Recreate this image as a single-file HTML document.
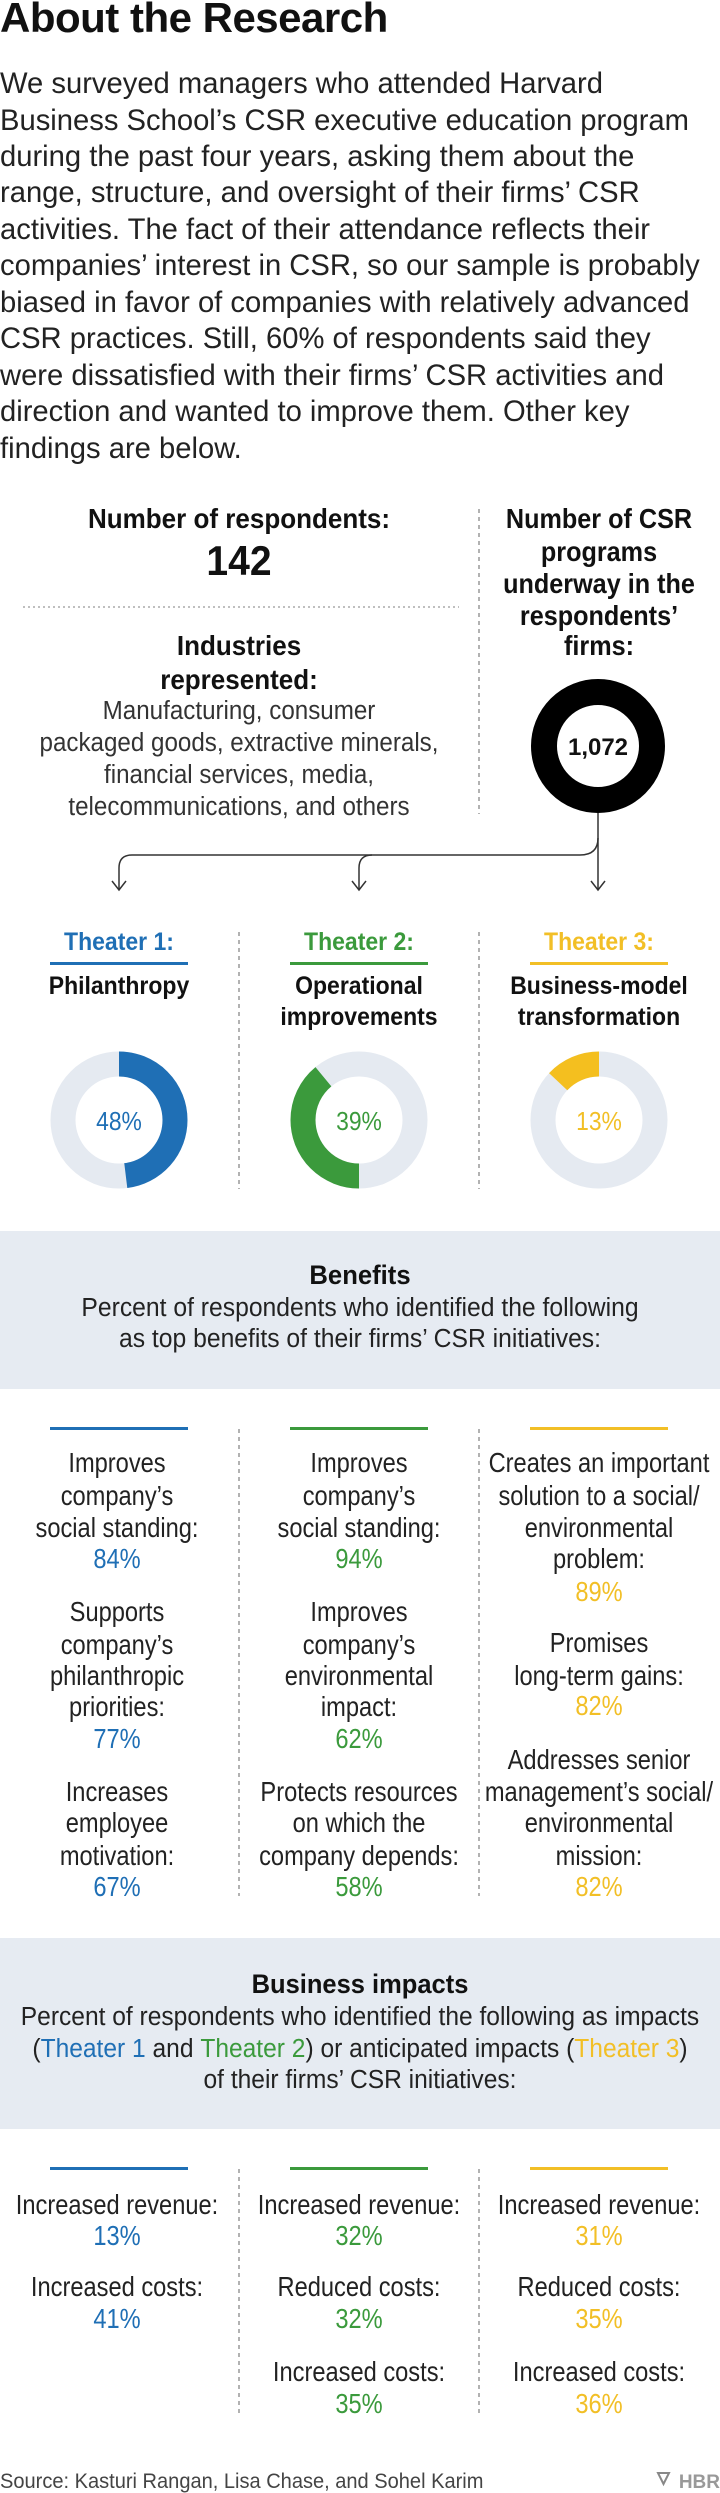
<!DOCTYPE html>
<html><head><meta charset="utf-8"><style>
html,body{margin:0;padding:0;background:#fff;}
svg{display:block;}
.s{font-family:"Liberation Sans",sans-serif;}
</style></head><body>
<svg width="720" height="2493" viewBox="0 0 720 2493" xmlns="http://www.w3.org/2000/svg" class="s">
<rect width="720" height="2493" fill="#fff"/>
<text x="0" y="32" font-size="42" font-weight="bold" fill="#111" letter-spacing="-0.5">About the Research</text>
<g font-size="29.2" fill="#222">
<text x="0" y="93">We surveyed managers who attended Harvard</text>
<text x="0" y="130">Business School’s CSR executive education program</text>
<text x="0" y="166">during the past four years, asking them about the</text>
<text x="0" y="202">range, structure, and oversight of their firms’ CSR</text>
<text x="0" y="239">activities. The fact of their attendance reflects their</text>
<text x="0" y="275">companies’ interest in CSR, so our sample is probably</text>
<text x="0" y="312">biased in favor of companies with relatively advanced</text>
<text x="0" y="348">CSR practices. Still, 60% of respondents said they</text>
<text x="0" y="385">were dissatisfied with their firms’ CSR activities and</text>
<text x="0" y="421">direction and wanted to improve them. Other key</text>
<text x="0" y="458">findings are below.</text>
</g>
<g text-anchor="middle" fill="#111" transform="translate(239 0) scale(0.93 1)">
<text x="0" y="528" font-size="28" font-weight="bold">Number of respondents:</text>
<text x="0" y="575" font-size="42" font-weight="bold">142</text>
<text x="0" y="655" font-size="28" font-weight="bold">Industries</text>
<text x="0" y="689" font-size="28" font-weight="bold">represented:</text>
<g font-size="26" fill="#333">
<text x="0" y="719">Manufacturing, consumer</text>
<text x="0" y="751">packaged goods, extractive minerals,</text>
<text x="0" y="783">financial services, media,</text>
<text x="0" y="815">telecommunications, and others</text>
</g>
</g>
<g text-anchor="middle" fill="#111" font-size="28" font-weight="bold" transform="translate(599 0) scale(0.9 1)">
<text x="0" y="528">Number of CSR</text>
<text x="0" y="561">programs</text>
<text x="0" y="593">underway in the</text>
<text x="0" y="625">respondents’</text>
<text x="0" y="655">firms:</text>
</g>
<line x1="23" y1="607" x2="459" y2="607" stroke="#aaa" stroke-width="1.5" stroke-dasharray="2 3"/>
<line x1="479" y1="509" x2="479" y2="814" stroke="#666" stroke-width="1" stroke-dasharray="4 4"/>
<circle cx="598" cy="746" r="54" fill="none" stroke="#000" stroke-width="26"/>
<text x="598" y="755" font-size="24" font-weight="bold" text-anchor="middle" fill="#111">1,072</text>
<g fill="none" stroke="#333" stroke-width="1.5">
<path d="M598 813 V889"/>
<path d="M598 838 Q598 855 580 855 H132 Q119 855 119 868 V889"/>
<path d="M372 855 Q359 855 359 868 V889"/>
<path d="M112 881 L119 890 L126 881 M352 881 L359 890 L366 881 M591 881 L598 890 L605 881"/>
</g>
<g text-anchor="middle" font-weight="bold" font-size="25">
<g transform="translate(119 0) scale(0.92 1)">
<text x="0" y="950" fill="#1f6fb5">Theater 1:</text>
<text x="0" y="994" fill="#111">Philanthropy</text>
</g>
<g transform="translate(359 0) scale(0.92 1)">
<text x="0" y="950" fill="#3b9a3c">Theater 2:</text>
<text x="0" y="994" fill="#111">Operational</text>
<text x="0" y="1025" fill="#111">improvements</text>
</g>
<g transform="translate(599 0) scale(0.92 1)">
<text x="0" y="950" fill="#f2bf26">Theater 3:</text>
<text x="0" y="994" fill="#111">Business-model</text>
<text x="0" y="1025" fill="#111">transformation</text>
</g>
</g>
<rect x="50" y="962" width="138" height="3" fill="#1f6fb5"/>
<rect x="290" y="962" width="138" height="3" fill="#3b9a3c"/>
<rect x="530" y="962" width="138" height="3" fill="#f2bf26"/>
<line x1="239" y1="932" x2="239" y2="1189" stroke="#666" stroke-dasharray="4 4"/>
<line x1="479" y1="932" x2="479" y2="1189" stroke="#666" stroke-dasharray="4 4"/>
<g fill="none" stroke-width="25">
<circle cx="119" cy="1120" r="56" stroke="#e5eaf1"/>
<circle cx="119" cy="1120" r="56" stroke="#1f6fb5" stroke-dasharray="168.9 400" transform="rotate(-90 119 1120)"/>
<circle cx="359" cy="1120" r="56" stroke="#e5eaf1"/>
<circle cx="359" cy="1120" r="56" stroke="#3b9a3c" stroke-dasharray="137.2 400" transform="rotate(90 359 1120)"/>
<circle cx="599" cy="1120" r="56" stroke="#e5eaf1"/>
<circle cx="599" cy="1120" r="56" stroke="#f4bf1f" stroke-dasharray="45.7 400" transform="rotate(223.2 599 1120)"/>
</g>
<g font-size="26" text-anchor="middle">
<text transform="translate(119 1130) scale(0.88 1)" fill="#1f6fb5">48%</text>
<text transform="translate(359 1130) scale(0.88 1)" fill="#3b9a3c">39%</text>
<text transform="translate(599 1130) scale(0.88 1)" fill="#f2bf26">13%</text>
</g>
<rect x="0" y="1231" width="720" height="158" fill="#e6ebf2"/>
<g text-anchor="middle" fill="#222" transform="translate(360 0) scale(0.95 1)">
<text x="0" y="1284" font-size="27" font-weight="bold" fill="#111">Benefits</text>
<text x="0" y="1316" font-size="26">Percent of respondents who identified the following</text>
<text x="0" y="1347" font-size="26">as top benefits of their firms’ CSR initiatives:</text>
</g>
<rect x="50" y="1427" width="138" height="3" fill="#1f6fb5"/>
<rect x="290" y="1427" width="138" height="3" fill="#3b9a3c"/>
<rect x="530" y="1427" width="138" height="3" fill="#f2bf26"/>
<line x1="239" y1="1429" x2="239" y2="1896" stroke="#666" stroke-dasharray="4 4"/>
<line x1="479" y1="1429" x2="479" y2="1896" stroke="#666" stroke-dasharray="4 4"/>
<g text-anchor="middle" font-size="28" fill="#222">
<g transform="translate(117 0) scale(0.845 1)">
<text x="0" y="1472">Improves</text><text x="0" y="1505">company’s</text><text x="0" y="1537">social standing:</text>
<text x="0" y="1568" fill="#1f6fb5">84%</text>
<text x="0" y="1621">Supports</text><text x="0" y="1654">company’s</text><text x="0" y="1685">philanthropic</text><text x="0" y="1716">priorities:</text>
<text x="0" y="1748" fill="#1f6fb5">77%</text>
<text x="0" y="1801">Increases</text><text x="0" y="1832">employee</text><text x="0" y="1865">motivation:</text>
<text x="0" y="1896" fill="#1f6fb5">67%</text>
</g>
<g transform="translate(359 0) scale(0.845 1)">
<text x="0" y="1472">Improves</text><text x="0" y="1505">company’s</text><text x="0" y="1537">social standing:</text>
<text x="0" y="1568" fill="#3b9a3c">94%</text>
<text x="0" y="1621">Improves</text><text x="0" y="1654">company’s</text><text x="0" y="1685">environmental</text><text x="0" y="1716">impact:</text>
<text x="0" y="1748" fill="#3b9a3c">62%</text>
<text x="0" y="1801">Protects resources</text><text x="0" y="1832">on which the</text><text x="0" y="1865">company depends:</text>
<text x="0" y="1896" fill="#3b9a3c">58%</text>
</g>
<g transform="translate(599 0) scale(0.845 1)">
<text x="0" y="1472">Creates an important</text><text x="0" y="1505">solution to a social/</text><text x="0" y="1537">environmental</text><text x="0" y="1568">problem:</text>
<text x="0" y="1601" fill="#f2bf26">89%</text>
<text x="0" y="1652">Promises</text><text x="0" y="1685">long-term gains:</text>
<text x="0" y="1715" fill="#f2bf26">82%</text>
<text x="0" y="1769">Addresses senior</text><text x="0" y="1801">management’s social/</text><text x="0" y="1832">environmental</text><text x="0" y="1865">mission:</text>
<text x="0" y="1896" fill="#f2bf26">82%</text>
</g>
</g>
<rect x="0" y="1938" width="720" height="191" fill="#e6ebf2"/>
<g text-anchor="middle" fill="#222" font-size="26" transform="translate(360 0) scale(0.945 1)">
<text x="0" y="1993" font-size="27" font-weight="bold" fill="#111">Business impacts</text>
<text x="0" y="2025">Percent of respondents who identified the following as impacts</text>
<text x="0" y="2057">(<tspan fill="#1f6fb5">Theater 1</tspan> and <tspan fill="#3b9a3c">Theater 2</tspan>) or anticipated impacts (<tspan fill="#f2bf26">Theater 3</tspan>)</text>
<text x="0" y="2088">of their firms’ CSR initiatives:</text>
</g>
<rect x="50" y="2167" width="138" height="3" fill="#1f6fb5"/>
<rect x="290" y="2167" width="138" height="3" fill="#3b9a3c"/>
<rect x="530" y="2167" width="138" height="3" fill="#f2bf26"/>
<line x1="239" y1="2169" x2="239" y2="2413" stroke="#666" stroke-dasharray="4 4"/>
<line x1="479" y1="2169" x2="479" y2="2413" stroke="#666" stroke-dasharray="4 4"/>
<g text-anchor="middle" font-size="28" fill="#222">
<g transform="translate(117 0) scale(0.845 1)">
<text x="0" y="2214">Increased revenue:</text><text x="0" y="2245" fill="#1f6fb5">13%</text>
<text x="0" y="2296">Increased costs:</text><text x="0" y="2328" fill="#1f6fb5">41%</text>
</g>
<g transform="translate(359 0) scale(0.845 1)">
<text x="0" y="2214">Increased revenue:</text><text x="0" y="2245" fill="#3b9a3c">32%</text>
<text x="0" y="2296">Reduced costs:</text><text x="0" y="2328" fill="#3b9a3c">32%</text>
<text x="0" y="2381">Increased costs:</text><text x="0" y="2413" fill="#3b9a3c">35%</text>
</g>
<g transform="translate(599 0) scale(0.845 1)">
<text x="0" y="2214">Increased revenue:</text><text x="0" y="2245" fill="#f2bf26">31%</text>
<text x="0" y="2296">Reduced costs:</text><text x="0" y="2328" fill="#f2bf26">35%</text>
<text x="0" y="2381">Increased costs:</text><text x="0" y="2413" fill="#f2bf26">36%</text>
</g>
</g>
<text transform="translate(0 2488) scale(0.955 1)" font-size="21" fill="#444">Source: Kasturi Rangan, Lisa Chase, and Sohel Karim</text>
<path d="M658 2473 h11 l-5.5 11 z" fill="none" stroke="#888" stroke-width="2"/>
<text x="720" y="2488" font-size="19" font-weight="bold" fill="#999" text-anchor="end">HBR</text>
</svg>
</body></html>
